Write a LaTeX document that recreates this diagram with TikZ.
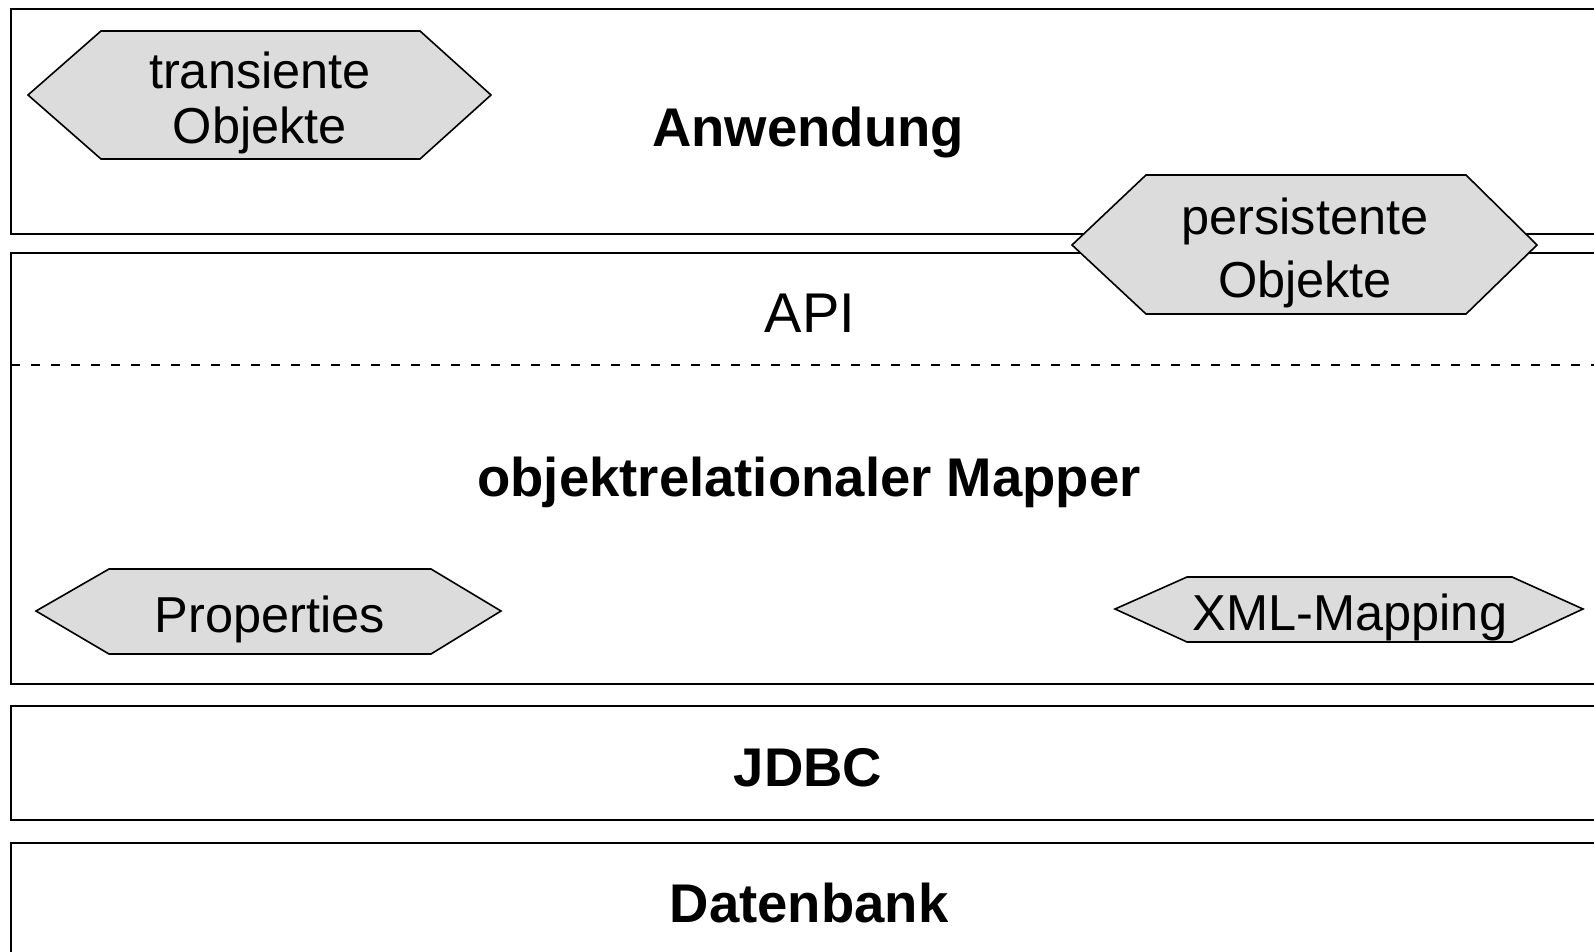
\documentclass[tikz,border=0pt]{standalone}
\usepackage{fontspec}
\setmainfont{Liberation Sans}
\definecolor{hexgray}{RGB}{220,220,220}
\tikzset{
  layer/.style={line width=2pt},
  hexa/.style={line width=1.6pt, fill=hexgray, line join=miter},
  title/.style={anchor=base, font=\fontsize{54.5}{60}\selectfont\bfseries},
  plain/.style={anchor=base, font=\fontsize{56}{60}\selectfont},
  hexlabel/.style={anchor=base, font=\fontsize{50.5}{56}\selectfont}
}
\begin{document}
\begin{tikzpicture}[x=1pt,y=-1pt]
\clip (0,0) rectangle (1594,952);
\fill[white] (0,0) rectangle (1594,952);
%Schichten
\draw[layer] (1620,9) -- (11,9) -- (11,234) -- (1620,234);
\draw[layer] (1620,253) -- (11,253) -- (11,684) -- (1620,684);
\draw[line width=1.4pt, dash pattern=on 9pt off 11pt] (11,365) -- (1620,365);
\draw[layer] (1620,706) -- (11,706) -- (11,820) -- (1620,820);
\draw[layer] (1620,843) -- (11,843) -- (11,980);
%Objekte
\draw[hexa] (28,95) -- (101,31) -- (420,31) -- (491,95) -- (420,159) -- (101,159) -- cycle;
\draw[hexa] (1072,245) -- (1146,175) -- (1466,175) -- (1537,245) -- (1466,314) -- (1146,314) -- cycle;
\draw[hexa] (36,611) -- (109,569) -- (431,569) -- (501,611) -- (431,654) -- (109,654) -- cycle;
\draw[hexa] (1115,609) -- (1187,577) -- (1512,577) -- (1583,609) -- (1512,642) -- (1187,642) -- cycle;
%Beschriftung
\node[title] (anw) at (808,147) {Anwendung};
\node[plain] (api) at (810,332) {API};
\node[title] (orm) at (809,496) {objektrelationaler Mapper};
\node[title] (jdbc) at (808,786) {JDBC};
\node[title] (db) at (809,922) {Datenbank};
\node[hexlabel] (tr1) at (260,89) {transiente};
\node[hexlabel] (tr2) at (260,144) {Objekte};
\node[hexlabel] (pe1) at (1305,234) {persistente};
\node[hexlabel] (pe2) at (1305,297) {Objekte};
\node[hexlabel] (prop) at (270,632) {Properties};
\node[hexlabel] (xml) at (1350,630) {XML-Mapping};
\end{tikzpicture}
\end{document}
